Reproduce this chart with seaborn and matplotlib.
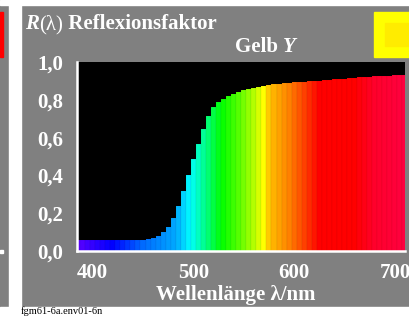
import colorsys
import numpy as np
import pandas as pd
from matplotlib import pyplot as plt
from matplotlib.patches import Rectangle
import seaborn as sns

sns.set_theme(style="white")
plt.rcParams['font.family'] = ['Liberation Serif', 'DejaVu Serif']

# Data: bar centres (nm) and reflectance factor
wavelengths = list(range(385, 715, 5))
reflectance = [
    0.058, 0.058, 0.058, 0.058, 0.058, 0.058, 0.058, 0.058, 0.058, 0.058,
    0.058, 0.058, 0.058, 0.059,
    0.061, 0.067, 0.079, 0.098, 0.125, 0.172, 0.240, 0.320, 0.400, 0.485,
    0.565, 0.645, 0.715, 0.760, 0.786, 0.805, 0.820, 0.832, 0.842, 0.850,
    0.856, 0.862, 0.867, 0.872, 0.877, 0.881, 0.884, 0.887, 0.890, 0.892,
    0.894, 0.896, 0.898, 0.900, 0.902, 0.904, 0.906, 0.908, 0.910, 0.912,
    0.914, 0.916, 0.918, 0.920, 0.922, 0.924, 0.925, 0.927, 0.928, 0.929,
    0.930, 0.931,
]
x_ticks = [400, 500, 600, 700]
y_ticks = [0.0, 0.2, 0.4, 0.6, 0.8, 1.0]
y_ticklabels = ["0,0", "0,2", "0,4", "0,6", "0,8", "1,0"]

df = pd.DataFrame({"wl": wavelengths, "R": reflectance})

# spectral colour of each bar (hue in degrees vs wavelength)
hue_nm = [385, 400, 420, 450, 483, 497, 513, 528, 545, 562, 570, 576, 595, 615, 625, 660, 680, 710]
hue_deg = [262, 252, 240, 215, 200, 180, 150, 120, 100, 75, 60, 45, 30, 10, 0, 0, -10, -15]


def spectral(wl):
    h = (np.interp(wl, hue_nm, hue_deg) % 360) / 360.0
    return colorsys.hsv_to_rgb(h, 1.0, 1.0)


palette = {wl: spectral(wl) for wl in wavelengths}

W, H = 410, 316
GREY = '#808080'
fig = plt.figure(figsize=(W / 100, H / 100), dpi=100, facecolor=GREY)


def px(x, y):
    return x / W, 1 - y / H


def rect(x0, y0, x1, y1, color):
    fig.patches.append(Rectangle((x0 / W, 1 - y1 / H), (x1 - x0) / W, (y1 - y0) / H,
                                 transform=fig.transFigure, color=color, zorder=0))


# frame decorations
rect(0, 0, W, 5, 'white')
rect(9, 5, 21, H, 'white')
rect(0, 307, W, H, 'white')
rect(0, 12, 3, 57, '#ff0000')
rect(0, 250, 3, 253, 'white')
rect(374, 12, W, 57, '#ffff00')
rect(385, 23, 408, 46, '#ffec00')

ax = fig.add_axes([77 / W, (H - 251) / H, (405 - 77) / W, (251 - 62) / H])
ax.set_facecolor('black')

sns.barplot(data=df, x="wl", y="R", hue="wl", palette=palette, native_scale=True,
            width=1.0, saturation=1, legend=False, edgecolor=(0, 0, 0, 0.12),
            linewidth=0.3, ax=ax)

ax.set_xlim(384.5, 710)
ax.set_ylim(0, 1.0)
ax.set_xticks(x_ticks)
ax.set_xticklabels([str(t) for t in x_ticks])
ax.set_yticks(y_ticks)
ax.set_yticklabels(y_ticklabels)
ax.set_xlabel("")
ax.set_ylabel("")

for side in ['top', 'right']:
    ax.spines[side].set_visible(False)
for side in ['left', 'bottom']:
    ax.spines[side].set_color('white')
    ax.spines[side].set_linewidth(1.8)
    ax.spines[side].set_zorder(5)

ax.tick_params(axis='both', direction='inout', length=7.5, width=1.6, color='white',
               labelcolor='white', labelsize=15)
ax.tick_params(axis='x', pad=5)
ax.tick_params(axis='y', pad=6)
for lab in ax.get_xticklabels() + ax.get_yticklabels():
    lab.set_fontweight('bold')


def text_run(x, y, pieces, size):
    """Draw text pieces one after another, starting at pixel (x, y) baseline."""
    renderer = fig.canvas.get_renderer()
    cur = x
    for s, weight, style in pieces:
        t = fig.text(*px(cur, y), s, color='white', fontsize=size, fontweight=weight,
                     fontstyle=style, va='baseline', ha='left')
        bb = t.get_window_extent(renderer)
        cur += bb.width


text_run(25, 29, [("R", 'bold', 'italic'), ("(λ)", 'normal', 'normal'),
                  (" Reflexionsfaktor", 'bold', 'normal')], 15)
text_run(235, 52, [("Gelb ", 'bold', 'normal'), ("Y", 'bold', 'italic')], 15)

fig.text(*px(236, 300), "Wellenlänge λ/nm", color='white', fontsize=15,
         fontweight='bold', ha='center', va='baseline')
fig.text(*px(21, 313.5), "fgm61-6a.env01-6n", color='black', fontsize=7.5,
         ha='left', va='baseline')

fig.savefig('out.png', dpi=100, facecolor=GREY)
